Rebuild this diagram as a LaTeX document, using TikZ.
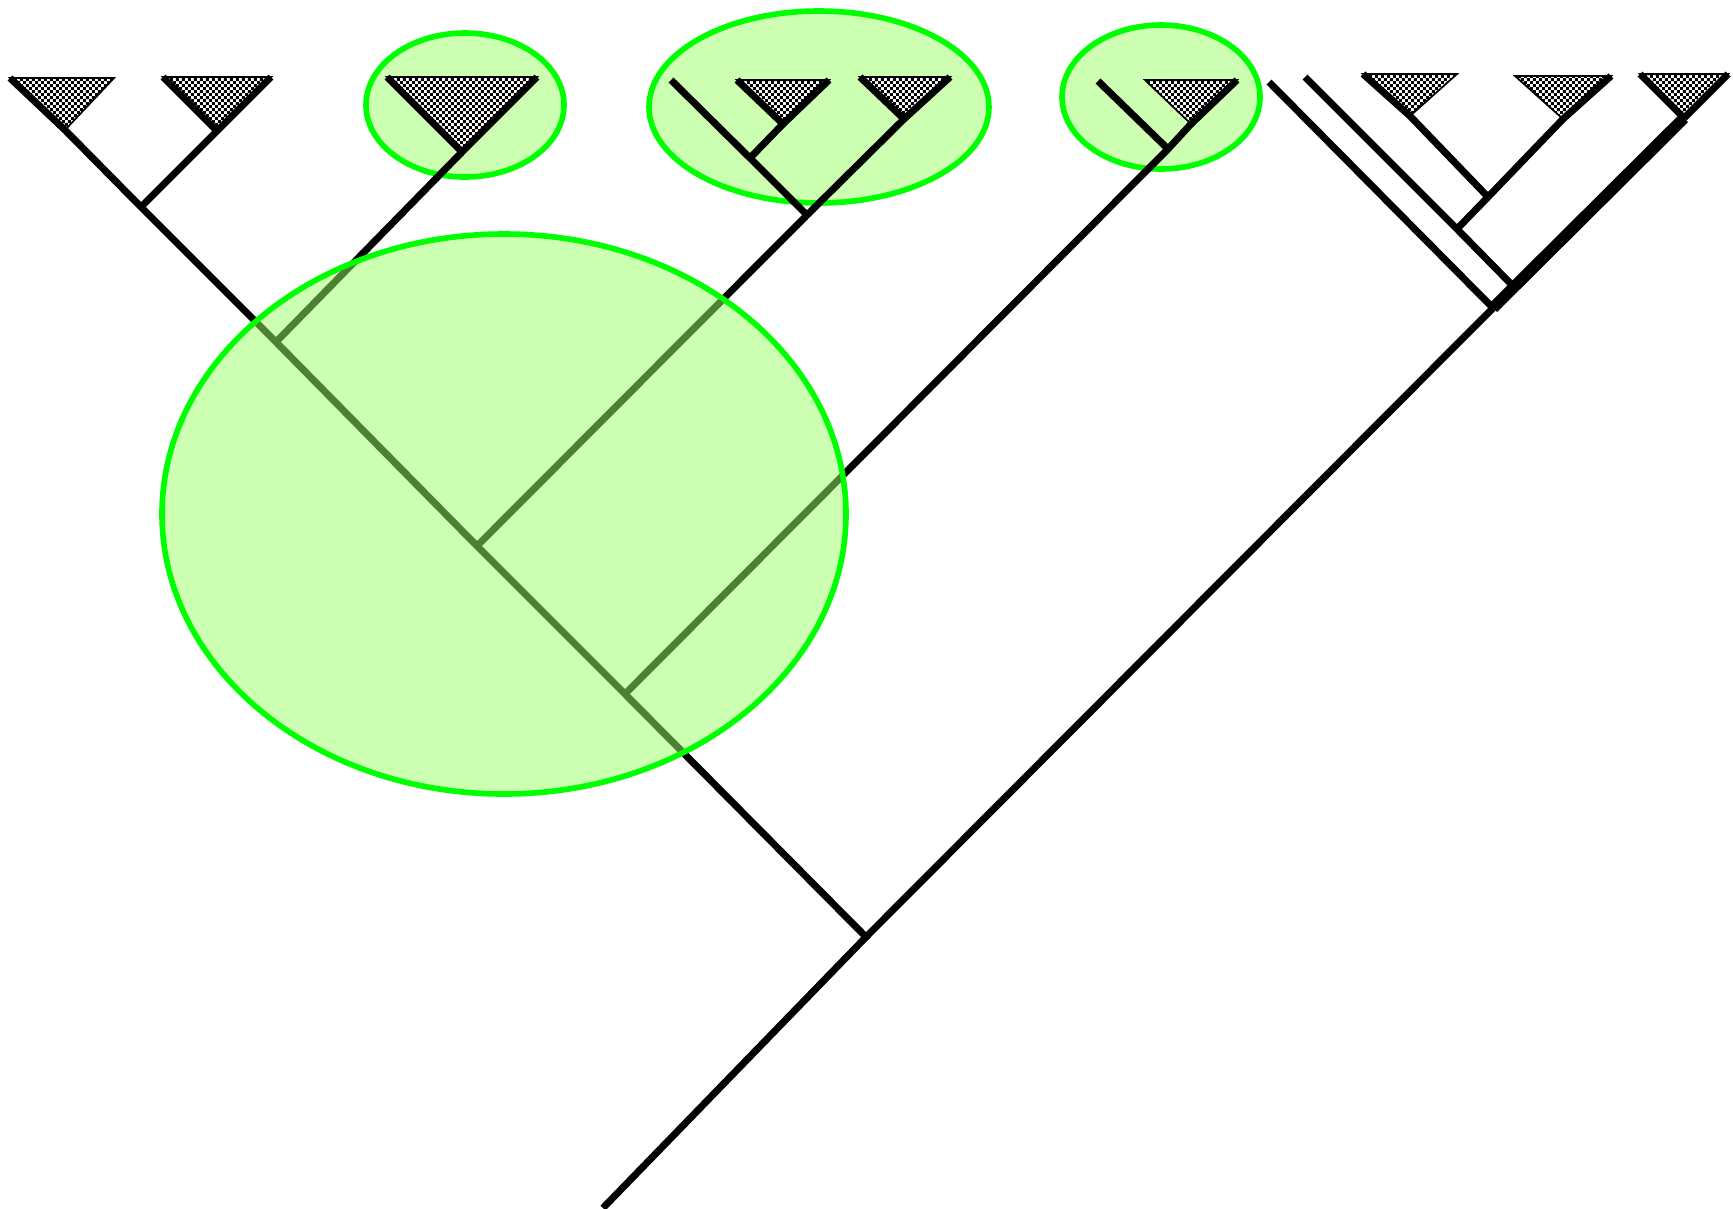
\documentclass[tikz,border=0pt]{standalone}
\usepackage{xcolor}
\usepackage{tikz}
\usetikzlibrary{patterns.meta}

\definecolor{cladefill}{RGB}{153,255,102}
\definecolor{cladeline}{RGB}{0,255,0}

\tikzdeclarepattern{
  name=finechecks,
  tile size={(1.7pt,1.7pt)},
  bottom left={(0pt,0pt)},
  top right={(1.7pt,1.7pt)},
  code={
    \fill (0pt,0pt) rectangle (0.85pt,0.85pt);
    \fill (0.85pt,0.85pt) rectangle (1.7pt,1.7pt);
  }
}

\begin{document}
\begin{tikzpicture}[x=0.01cm, y=-0.01cm,
    branch/.style={line width=2pt},
    trunk/.style={line width=3.3pt},
    clade/.style={draw=cladeline, line width=1.6pt, fill=cladefill, fill opacity=0.5},
    subtree/.style={draw=black, line width=0.5pt, preaction={fill=white}, pattern=finechecks}]
		\useasboundingbox (0,0) rectangle (1733,1208);

		% small clades, behind the tree
		\draw[clade] (465,105) ellipse [x radius=99, y radius=72];
		\draw[clade] (819,107) ellipse [x radius=170, y radius=96];
		\draw[clade] (1161,97) ellipse [x radius=99, y radius=72];

		% inner nodes
		\coordinate (root) at (603,1208);
		\coordinate (n1) at (866,937);
		\coordinate (n2) at (625,694);
		\coordinate (n3) at (477,546);
		\coordinate (n4) at (276,342);
		\coordinate (n5) at (141,207);
		\coordinate (n6) at (807,215);
		\coordinate (n7) at (750,158);
		\coordinate (n8) at (1168,149);
		\coordinate (n9) at (1493,308);
		\coordinate (n10) at (1514,287);
		\coordinate (n11) at (1488,197);
		\coordinate (n12) at (1457,229);

		% single leaves
		\coordinate (e6) at (671,80);
		\coordinate (e8) at (1098,81);
		\coordinate (e9) at (1269,82);
		\coordinate (e10) at (1305,77);

		% collapsed subtrees: apex, left and right corner
		\coordinate (t1) at (65,130);   \coordinate (t1-l) at (10,78);   \coordinate (t1-r) at (114,78);
		\coordinate (t2) at (217,131);  \coordinate (t2-l) at (163,77);  \coordinate (t2-r) at (271,77);
		\coordinate (t3) at (462,152);  \coordinate (t3-l) at (387,77);  \coordinate (t3-r) at (537,77);
		\coordinate (t4) at (783,124);  \coordinate (t4-l) at (737,80);  \coordinate (t4-r) at (829,80);
		\coordinate (t5) at (904,119);  \coordinate (t5-l) at (860,77);  \coordinate (t5-r) at (950,77);
		\coordinate (t6) at (1191,124); \coordinate (t6-l) at (1145,80); \coordinate (t6-r) at (1237,80);
		\coordinate (t7) at (1410,116); \coordinate (t7-l) at (1363,74); \coordinate (t7-r) at (1457,74);
		\coordinate (t8) at (1563,119); \coordinate (t8-l) at (1515,76); \coordinate (t8-r) at (1611,76);
		\coordinate (t9) at (1684,118); \coordinate (t9-l) at (1640,74); \coordinate (t9-r) at (1728,74);

		\foreach \t in {t1,t2,t3,t4,t5,t6,t7,t8,t9}
			\draw[subtree] (\t-l) -- (\t-r) -- (\t) -- cycle;

		% branches
		\draw[branch] (root) -- (n1) -- (n2) -- (n3) -- (n4) -- (n5) -- (t1) -- (t1-l);
		\draw[branch] (n5) -- (t2) -- (t2-r);
		\draw[branch] (t2) -- (t2-l);
		\draw[branch] (n4) -- (t3) -- (t3-r);
		\draw[branch] (t3) -- (t3-l);
		\draw[branch] (n3) -- (n6) -- (t5) -- (t5-r);
		\draw[branch] (t5) -- (t5-l);
		\draw[branch] (n6) -- (n7) -- (e6);
		\draw[branch] (n7) -- (t4) -- (t4-r);
		\draw[branch] (t4) -- (t4-l);
		\draw[branch] (n2) -- (n8) -- (t6) -- (t6-r);
		\draw[branch] (n8) -- (e8);

		\draw[branch] (n1) -- (n9);
		\draw[trunk] (n9) -- (n10) -- (t9);
		\draw[branch] (t9) -- (t9-r);
		\draw[branch] (t9) -- (t9-l);
		\draw[branch] (n9) -- (e9);
		\draw[branch] (n10) -- (n12) -- (e10);
		\draw[branch] (n12) -- (n11);
		\draw[branch] (n11) -- (t7) -- (t7-l);
		\draw[branch] (n11) -- (t8) -- (t8-r);

		% large clade, over the tree
		\draw[clade] (504,514) ellipse [x radius=342, y radius=280];
	\end{tikzpicture}
\end{document}
